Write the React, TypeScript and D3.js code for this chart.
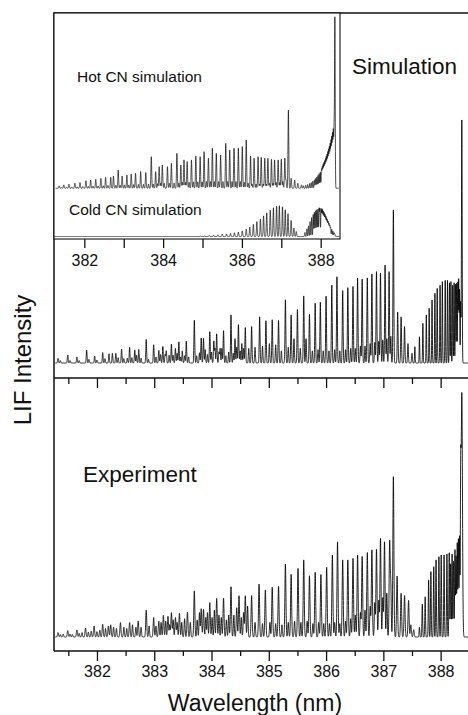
import React, { useEffect, useRef } from 'react';
import * as d3 from 'd3';

type Ln = [number, number];

// line lists: [wavelength nm, intensity (band head = 100)]

// main "Simulation" panel
const simLines: Ln[] = [
  [381.32, 1.9], [381.49, 3.3], [381.65, 2.5], [381.82, 5.3], [381.96, 2.9], [382.10, 4.3],
  [382.21, 3.8], [382.27, 4], [382.33, 4], [382.43, 5.7], [382.57, 6.4], [382.66, 5.4],
  [382.73, 5.6], [382.86, 9.7], [382.99, 7.5], [383.08, 5.2], [383.15, 6.8], [383.21, 5],
  [383.30, 7.8], [383.37, 6], [383.43, 8.7], [383.49, 5], [383.56, 9], [383.70, 17.6],
  [383.82, 10.3], [383.86, 10.2], [383.97, 12.9], [384.04, 9], [384.09, 12], [384.15, 6],
  [384.21, 13.3], [384.34, 19.8], [384.41, 10], [384.47, 15.8], [384.53, 8], [384.59, 14.6],
  [384.70, 15], [384.84, 19], [384.95, 17.4], [385.06, 17.8], [385.17, 17.5], [385.29, 26],
  [385.39, 19.8], [385.50, 22], [385.61, 27.6], [385.71, 20], [385.81, 24.6], [385.90, 25],
  [386.00, 27.5], [386.10, 32], [386.19, 35.5], [386.29, 29.8], [386.38, 31], [386.47, 31.5],
  [386.55, 35], [386.63, 34.5], [386.72, 35], [386.80, 36.6], [386.88, 37.6], [386.95, 37],
  [387.03, 40.3], [387.10, 37.6], [387.175, 63], [387.25, 21], [387.31, 19], [387.37, 15],
  [387.43, 8], [387.50, 4],
];
const simWeak: Ln[] = [
  [381.36, 1], [381.53, 1], [381.69, 1], [381.86, 1.5], [382.00, 1.2], [382.14, 1.8],
  [382.37, 2.2], [382.47, 1.8], [382.53, 2], [382.61, 2.2], [382.69, 3.2], [382.77, 2],
  [382.90, 1.5], [383.03, 2.5], [383.11, 3.5], [383.19, 3.5], [383.26, 3.2], [383.33, 3.2],
  [383.40, 4], [383.46, 2.5], [383.53, 3], [383.60, 2.5], [383.74, 3], [383.79, 4.2],
  [383.89, 5.5], [383.93, 3.5], [384.00, 4.5], [384.06, 6], [384.13, 4.5], [384.18, 6],
  [384.25, 3], [384.30, 4.5], [384.38, 4], [384.44, 6.5], [384.50, 5], [384.56, 6],
  [384.65, 6], [384.76, 6.5], [384.89, 7], [385.01, 8], [385.12, 7.5], [385.22, 5],
  [385.34, 6.5], [385.44, 10], [385.55, 6], [385.65, 10], [385.76, 5], [385.86, 5.5],
  [385.95, 5], [386.05, 5], [386.15, 5.5], [386.24, 5], [386.34, 5.5], [386.43, 6],
  [386.51, 6], [386.60, 7], [386.68, 7], [386.77, 8], [386.85, 8.5], [386.92, 9],
  [386.99, 9.5], [387.06, 10], [387.13, 11],
];
const simBand: Ln[] = [
  [387.55, 6.7], [387.63, 10.8], [387.69, 16.3], [387.75, 19.8], [387.80, 22.5], [387.85, 25.9],
  [387.90, 28.7], [387.94, 30.7], [387.99, 32], [388.03, 33.5], [388.08, 34], [388.12, 34],
  [388.155, 33], [388.18, 33.5], [388.21, 32], [388.235, 33], [388.26, 32.5], [388.28, 32.8],
  [388.30, 33], [388.315, 34], [388.33, 30], [388.35, 25],
];
const simHead: Ln[] = [[388.37, 100]];

// main "Experiment" panel
const expLines: Ln[] = [
  [381.32, 1.8], [381.49, 2.6], [381.65, 2.9], [381.80, 3.7], [381.95, 4.5], [382.10, 5.2],
  [382.20, 4.5], [382.24, 5], [382.41, 5.9], [382.57, 5.9], [382.72, 6.6], [382.86, 11],
  [382.99, 8], [383.08, 6.5], [383.16, 8.9], [383.24, 8.5], [383.30, 10], [383.37, 8],
  [383.44, 9.7], [383.58, 10.2], [383.70, 18.9], [383.82, 11.6], [383.86, 11.3], [383.97, 14.1],
  [384.09, 15.8], [384.21, 15.9], [384.34, 20.6], [384.44, 12], [384.48, 16.9], [384.59, 16.9],
  [384.70, 17], [384.83, 21.7], [384.94, 19.3], [385.06, 20.4], [385.17, 20.8], [385.29, 29.9],
  [385.39, 25.7], [385.51, 28.1], [385.61, 31.6], [385.71, 25.1], [385.81, 26.5], [385.91, 25.6],
  [386.01, 28.6], [386.11, 33.6], [386.20, 39], [386.29, 31.6], [386.38, 31.6], [386.47, 32.2],
  [386.55, 33.6], [386.63, 33], [386.72, 34.6], [386.80, 35.7], [386.88, 35.9], [386.95, 40.4],
  [387.02, 39], [387.11, 38.7], [387.175, 65.7], [387.24, 25], [387.31, 17.9], [387.37, 17],
  [387.44, 15], [387.48, 5], [387.53, 3],
];
const expWeak: Ln[] = [
  [381.36, 1], [381.41, 1.2], [381.53, 1.2], [381.57, 1], [381.69, 1.5], [381.74, 1.8],
  [381.85, 2], [381.90, 2.4], [382.00, 2.2], [382.05, 2.8], [382.15, 3.5], [382.29, 4],
  [382.34, 3.5], [382.47, 4], [382.52, 3.5], [382.62, 5], [382.68, 4], [382.77, 4],
  [382.91, 4.5], [383.03, 4.5], [383.12, 6], [383.20, 6.5], [383.27, 5], [383.33, 7],
  [383.40, 6], [383.48, 6], [383.53, 7.5], [383.63, 6], [383.75, 7], [383.79, 10],
  [383.90, 8], [383.93, 10], [384.01, 8], [384.05, 11], [384.13, 9], [384.17, 8],
  [384.26, 7], [384.30, 9], [384.39, 9], [384.52, 8], [384.56, 10], [384.63, 12.7],
  [384.76, 6], [384.89, 5.5], [385.02, 6], [385.12, 5.5], [385.23, 5], [385.34, 6],
  [385.45, 6.5], [385.56, 6], [385.67, 6.5], [385.77, 5.5], [385.87, 6], [385.96, 5.5],
  [386.06, 5.5], [386.15, 6], [386.24, 5.5], [386.34, 6.5], [386.43, 7.5], [386.51, 9],
  [386.60, 10], [386.68, 11], [386.77, 12.5], [386.85, 14], [386.92, 15], [386.99, 16],
  [387.06, 18], [387.13, 20],
];
const expBand: Ln[] = [
  [387.63, 4], [387.68, 13.5], [387.73, 16.5], [387.79, 23.4], [387.83, 26.8], [387.88, 28.8],
  [387.92, 31.6], [387.97, 32.9], [388.01, 33.6], [388.06, 33.6], [388.11, 34], [388.15, 34.5],
  [388.175, 30], [388.20, 34], [388.225, 31], [388.25, 35.7], [388.27, 33], [388.29, 38.4],
  [388.31, 40], [388.33, 41], [388.35, 55],
];
const expHead: Ln[] = [[388.37, 100]];

// inset, hot CN
const hotLines: Ln[] = [
  [381.36, 1.4], [381.48, 2], [381.61, 2.4], [381.76, 3], [381.89, 3.4], [382.04, 4.5],
  [382.16, 4.9], [382.29, 5.3], [382.42, 5.9], [382.54, 6.5], [382.67, 6.5], [382.74, 7.3],
  [382.86, 10.8], [382.96, 7.3], [383.08, 7.9], [383.19, 8.5], [383.30, 8.9], [383.43, 9.9],
  [383.56, 9.3], [383.70, 18.7], [383.81, 9.9], [383.90, 12.8], [383.98, 13.8], [384.11, 12.8],
  [384.21, 14.8], [384.35, 20.7], [384.45, 13.8], [384.53, 16.8], [384.61, 15.8], [384.72, 16.8],
  [384.83, 19.1], [384.94, 18.7], [385.04, 21.7], [385.15, 17.8], [385.25, 23.7], [385.35, 20.7],
  [385.46, 19.7], [385.59, 26.6], [385.69, 22.7], [385.80, 23.7], [385.91, 23.7], [386.01, 24.7],
  [386.11, 28.6], [386.22, 19.1], [386.31, 17.8], [386.41, 18.7], [386.49, 18.3], [386.58, 17.8],
  [386.66, 17.8], [386.75, 17.2], [386.83, 16.8], [386.92, 16.8], [387.00, 17.2], [387.09, 17.8],
  [387.18, 46.3], [387.25, 5.9], [387.34, 4.9], [387.42, 3], [387.51, 2],
];
const hotWeak: Ln[] = [
  [381.42, 0.5], [381.55, 0.6], [381.68, 0.7], [381.82, 0.8], [381.96, 1], [382.10, 1.1],
  [382.22, 1.3], [382.35, 1.4], [382.48, 1.5], [382.60, 1.7], [382.80, 1.8], [382.91, 1.8],
  [383.02, 2], [383.13, 2], [383.25, 2.2], [383.37, 2.3], [383.50, 2.3], [383.63, 2.5],
  [383.75, 2.5], [383.86, 2.8], [383.94, 3], [384.03, 3], [384.16, 3], [384.28, 3.2],
  [384.40, 3.2], [384.49, 3.5], [384.57, 3.5], [384.66, 3.5], [384.77, 3.8], [384.88, 3.8],
  [384.99, 3.8], [385.10, 4], [385.20, 4], [385.30, 4], [385.41, 4], [385.52, 4],
  [385.64, 4], [385.75, 4], [385.85, 4], [385.96, 4], [386.06, 3.5], [386.16, 3],
  [386.26, 2.5], [386.36, 2.5], [386.45, 2.5], [386.54, 2.5], [386.62, 2.5], [386.70, 3],
  [386.79, 3], [386.87, 3.5], [386.96, 3.5], [387.04, 4], [387.12, 5],
];
const hotBand: Ln[] = [
  [387.56, 1.5], [387.62, 1.8], [387.67, 2.2], [387.72, 2.8], [387.76, 3.4], [387.80, 4.2],
  [387.84, 5], [387.87, 5.8], [387.90, 6.6], [387.93, 7.6], [387.96, 8.6], [387.99, 9.6],
  [388.02, 11], [388.04, 12], [388.06, 13], [388.08, 14], [388.10, 15], [388.12, 16.2],
  [388.14, 17.4], [388.16, 18.6], [388.18, 20], [388.20, 21.5], [388.22, 23], [388.24, 24.6],
  [388.26, 26.5], [388.28, 28.5], [388.30, 30.5], [388.32, 32.5], [388.34, 34], [388.36, 100],
];

// inset, cold CN
const coldLines: Ln[] = [
  [384.95, 0.3], [385.06, 0.4], [385.17, 0.6], [385.28, 0.8], [385.39, 1], [385.50, 1.3],
  [385.61, 1.5], [385.71, 1.8], [385.81, 2.2], [385.91, 2.6], [386.01, 3.3], [386.11, 4.3],
  [386.20, 5.6], [386.29, 7.2], [386.38, 8.8], [386.47, 10.4], [386.55, 12.2], [386.63, 14],
  [386.72, 15.6], [386.80, 17], [386.88, 18], [386.95, 18.2], [387.03, 17.6], [387.10, 15.8],
  [387.17, 13.5], [387.25, 9.5], [387.32, 5], [387.38, 3],
];
const coldBand: Ln[] = [
  [387.60, 2.4], [387.65, 4.5], [387.69, 6.3], [387.73, 8.8], [387.77, 11.2], [387.81, 13],
  [387.84, 14.3], [387.87, 15.2], [387.90, 15.8], [387.93, 16.2], [387.96, 16.2], [387.98, 16],
  [388.01, 15.6], [388.03, 15.2], [388.05, 14.6], [388.07, 13.8], [388.09, 13], [388.11, 12.2],
  [388.13, 11.2], [388.15, 10.2], [388.17, 9.3], [388.19, 8.3], [388.21, 7.3], [388.23, 6.3],
  [388.25, 5.3], [388.28, 4.3], [388.31, 3.2], [388.34, 2.2], [388.36, 1.4],
];

const majorTicks = [382, 383, 384, 385, 386, 387, 388];
const minorTicks = [381.5, 382.5, 383.5, 384.5, 385.5, 386.5, 387.5];
const insetTicks = [382, 383, 384, 385, 386, 387, 388];
const insetLabels = [382, 384, 386, 388];

const FONT = '"Liberation Sans", Arial, Helvetica, sans-serif';

// sum of narrow gaussian lines on a fine wavelength grid
const spectrum = (groups: { lines: Ln[]; w: number }[], lo: number, hi: number, step: number) => {
  const pts: [number, number][] = [];
  const n = Math.round((hi - lo) / step);
  for (let i = 0; i <= n; i++) {
    const l = lo + i * step;
    let v = 0;
    for (const g of groups) {
      const cut = 6 * g.w;
      for (const [c, h] of g.lines) {
        const d = l - c;
        if (d > cut || d < -cut) continue;
        v += h * Math.exp(-(d * d) / (2 * g.w * g.w));
      }
    }
    pts.push([l, v]);
  }
  return pts;
};

const App = () => {
  const ref = useRef<SVGSVGElement>(null);

  useEffect(() => {
    const svg = d3.select(ref.current);
    svg.selectAll('*').remove();

    const left = 54, top = 13, mid = 378, bottom = 651, right = 475;
    const x = d3.scaleLinear().domain([381.25, 388.6]).range([left, right]);
    const ySim = d3.scaleLinear().domain([0, 100]).range([363, 120]);
    const yExp = d3.scaleLinear().domain([0, 100]).range([637, 393]);

    const xi = d3.scaleLinear().domain([381.23, 388.49]).range([54, 340]);
    const yHot = d3.scaleLinear().domain([0, 100]).range([188.3, 19.3]);
    const yCold = d3.scaleLinear().domain([0, 100]).range([236.5, 67.5]);

    const trace = (data: [number, number][], sx: any, sy: any, sw = 0.85) => {
      svg.append('path')
        .datum(data)
        .attr('fill', 'none')
        .attr('stroke', '#000')
        .attr('stroke-width', sw)
        .attr('stroke-linejoin', 'round')
        .attr('d', d3.line<[number, number]>().x(d => sx(d[0])).y(d => sy(d[1])));
    };

    // main spectra
    trace(spectrum([
      { lines: simLines, w: 0.007 }, { lines: simWeak, w: 0.007 },
      { lines: simBand, w: 0.005 }, { lines: simHead, w: 0.006 },
    ], 381.27, 388.6, 0.001), x, ySim);
    trace(spectrum([
      { lines: expLines, w: 0.009 }, { lines: expWeak, w: 0.008 },
      { lines: expBand, w: 0.006 }, { lines: expHead, w: 0.011 },
    ], 381.27, 388.6, 0.001), x, yExp);

    // frame
    const frame = svg.append('g').attr('stroke', '#111').attr('stroke-width', 1.5).attr('fill', 'none');
    frame.append('path').attr('d', `M${left},${bottom}V${top}H${right}`);
    frame.append('line').attr('x1', left).attr('x2', right).attr('y1', mid).attr('y2', mid);
    frame.append('line').attr('x1', left).attr('x2', right).attr('y1', bottom).attr('y2', bottom);

    const styleAxis = (g: any) => {
      g.select('.domain').remove();
      g.selectAll('line').attr('stroke', '#111').attr('stroke-width', 1.3);
      g.selectAll('text').attr('font-size', 16).attr('font-family', FONT).attr('fill', '#111');
    };

    // ticks on the middle divider
    svg.append('g').attr('transform', `translate(0,${mid})`)
      .call(d3.axisBottom(x).tickValues(majorTicks).tickSize(10).tickFormat(() => ''))
      .call(styleAxis);
    svg.append('g').attr('transform', `translate(0,${mid})`)
      .call(d3.axisBottom(x).tickValues(minorTicks).tickSize(6).tickFormat(() => ''))
      .call(styleAxis);

    // bottom axis
    svg.append('g').attr('transform', `translate(0,${bottom})`)
      .call(d3.axisBottom(x).tickValues(majorTicks).tickSize(10).tickPadding(5).tickFormat(d3.format('d')))
      .call(styleAxis);
    svg.append('g').attr('transform', `translate(0,${bottom})`)
      .call(d3.axisBottom(x).tickValues(minorTicks).tickSize(5).tickFormat(() => ''))
      .call(styleAxis);

    // inset
    svg.append('rect')
      .attr('x', 54).attr('y', 13).attr('width', 286).attr('height', 226)
      .attr('fill', '#fff').attr('stroke', '#111').attr('stroke-width', 1.1);
    trace(spectrum([
      { lines: hotLines, w: 0.01 }, { lines: hotWeak, w: 0.01 }, { lines: hotBand, w: 0.008 },
    ], 381.27, 388.46, 0.001), xi, yHot, 0.7);
    trace(spectrum([
      { lines: coldLines, w: 0.01 }, { lines: coldBand, w: 0.008 },
    ], 381.24, 388.47, 0.001), xi, yCold, 0.7);
    svg.append('g').attr('transform', 'translate(0,239)')
      .call(d3.axisBottom(xi).tickValues(insetTicks).tickSize(9).tickPadding(7)
        .tickFormat((d: any) => (insetLabels.includes(+d) ? String(d) : '')))
      .call(styleAxis);

    // labels
    const label = (t: string, px: number, py: number, size: number, anchor = 'start') =>
      svg.append('text')
        .attr('x', px).attr('y', py)
        .attr('font-family', FONT).attr('font-size', size)
        .attr('text-anchor', anchor).attr('fill', '#111')
        .text(t);

    label('Simulation', 352, 74, 22.5);
    label('Experiment', 83, 482, 22.5);
    label('Hot CN simulation', 77, 82, 15.5);
    label('Cold CN simulation', 69, 215, 15.5);
    label('Wavelength (nm)', 255, 711, 23, 'middle');
    label('LIF Intensity', 0, 0, 24, 'middle').attr('transform', 'translate(31,360) rotate(-90)');
  }, []);

  return (
    <svg
      ref={ref}
      width={468}
      height={715}
      style={{ position: 'absolute', left: 0, top: 0, background: '#fff' }}
    />
  );
};

export default App;
